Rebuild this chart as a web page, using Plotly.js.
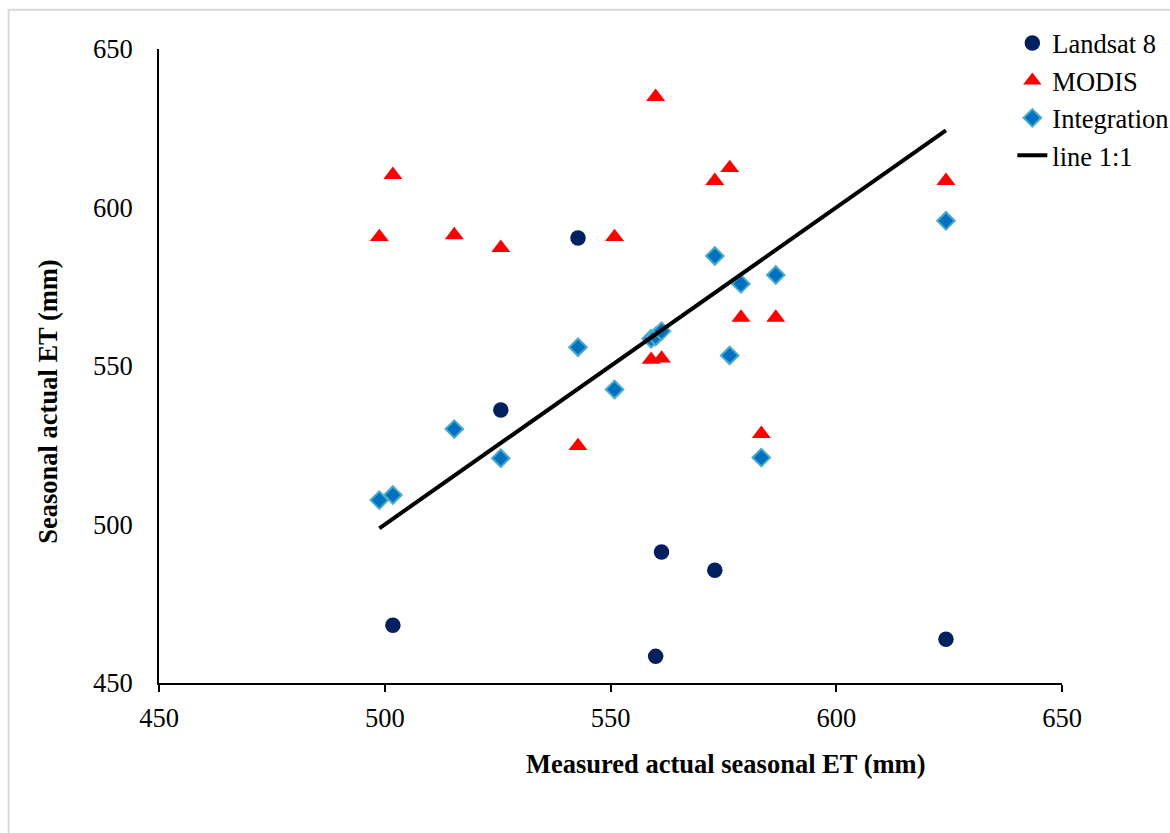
<!DOCTYPE html>
<html>
<head>
<meta charset="utf-8">
<script src="https://cdn.plot.ly/plotly-3.0.1.min.js"></script>
<style>
  html, body { margin: 0; padding: 0; background: #ffffff; }
  #chart { width: 1170px; height: 833px; }
</style>
</head>
<body>
<div id="chart"></div>
<script>
// Measured actual seasonal ET (mm)
const measuredX = [498.8, 501.8, 515.4, 525.7, 542.8, 550.9, 559.0, 560.0, 561.3, 573.1, 576.4, 578.9, 583.4, 586.6, 624.3];

// Landsat 8 (only points visible in the chart range)
const landsatX = [501.8, 525.7, 542.8, 560.0, 561.3, 573.1, 624.3];
const landsatY = [468.2, 536.1, 590.4, 458.4, 491.3, 485.6, 463.8];

// MODIS
const modisY = [590.7, 610.3, 591.3, 587.3, 524.8, 590.7, 552.0, 634.9, 552.4, 608.4, 612.5, 565.3, 528.6, 565.3, 608.4];

// Integration
const integrationY = [507.7, 509.3, 530.1, 520.9, 555.9, 542.6, 558.6, 559.3, 561.0, 584.7, 553.3, 575.9, 521.1, 578.7, 595.8];

// line 1:1
const lineXY = [498.8, 624.3];

// Axis ticks
const tickVals = [450, 500, 550, 600, 650];
const tickText = ['450', '500', '550', '600', '650'];

const serif = 'Liberation Serif, Times New Roman, serif';

const traces = [
  {
    x: landsatX, y: landsatY, name: 'Landsat 8', type: 'scatter', mode: 'markers',
    marker: { symbol: 'circle', size: 15.5, color: '#002060' }
  },
  {
    x: measuredX, y: modisY, name: 'MODIS', type: 'scatter', mode: 'markers',
    marker: { symbol: 'triangle-up', size: 16.5, color: '#ff0000' }
  },
  {
    x: measuredX, y: integrationY, name: 'Integration', type: 'scatter', mode: 'markers',
    marker: { symbol: 'diamond', size: 13.5, color: '#0070c0', line: { color: '#4bacc6', width: 2 } }
  },
  {
    x: lineXY, y: lineXY, name: 'line 1:1', type: 'scatter', mode: 'lines',
    line: { color: '#000000', width: 4 }
  }
];

const layout = {
  width: 1170, height: 833,
  margin: { l: 159, r: 108, t: 49, b: 150, pad: 0, autoexpand: false },
  paper_bgcolor: '#ffffff', plot_bgcolor: '#ffffff',
  font: { family: serif, size: 26.5, color: '#000000' },
  showlegend: true,
  legend: {
    x: 0.945, y: 1.047, xanchor: 'left', yanchor: 'top',
    bgcolor: 'rgba(0,0,0,0)', font: { family: serif, size: 26.5, color: '#000000' },
    tracegroupgap: 0
  },
  xaxis: {
    range: [450, 650], tickmode: 'array', tickvals: tickVals, ticktext: tickText,
    showgrid: false, zeroline: false, showline: true, linecolor: '#000000', linewidth: 2,
    ticks: 'outside', ticklen: 7, tickwidth: 2, tickcolor: '#000000',
    ticklabelstandoff: 3,
    tickfont: { family: serif, size: 26.5, color: '#000000' }, fixedrange: true
  },
  yaxis: {
    range: [450, 650], tickmode: 'array', tickvals: tickVals, ticktext: tickText,
    showgrid: false, zeroline: false, showline: true, linecolor: '#000000', linewidth: 2,
    ticks: '', ticklabelstandoff: 19,
    tickfont: { family: serif, size: 26.5, color: '#000000' }, fixedrange: true
  },
  annotations: [
    {
      text: '<b>Measured actual seasonal ET (mm)</b>', xref: 'paper', yref: 'paper',
      x: (726 - 159.3) / 902.7, y: (682.7 - 764) / 633.4, xanchor: 'center', yanchor: 'middle',
      showarrow: false, font: { family: serif, size: 26.5, color: '#000000' }
    },
    {
      text: '<b>Seasonal actual ET (mm)</b>', xref: 'paper', yref: 'paper', textangle: -90,
      x: (48 - 159.3) / 902.7, y: (682.7 - 402) / 633.4, xanchor: 'center', yanchor: 'middle',
      showarrow: false, font: { family: serif, size: 26.5, color: '#000000' }
    }
  ],
  shapes: [
    {
      type: 'rect', xref: 'paper', yref: 'paper', layer: 'below',
      x0: (9 - 159.3) / 902.7, x1: (1180 - 159.3) / 902.7,
      y0: (682.7 - 845) / 633.4, y1: (682.7 - 10) / 633.4,
      line: { color: '#d9d9d9', width: 2 }, fillcolor: 'rgba(0,0,0,0)'
    }
  ]
};

Plotly.newPlot('chart', traces, layout, { displayModeBar: false, staticPlot: true });
</script>
</body>
</html>
